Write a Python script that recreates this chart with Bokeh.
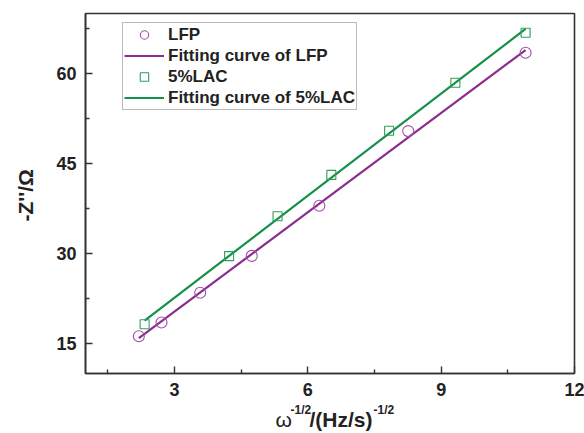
import numpy as np
from bokeh.plotting import figure
from bokeh.layouts import column, row
from bokeh.models import FixedTicker, Range1d, Legend, LegendItem
from bokeh.core.properties import value
from bokeh.embed import file_html
from bokeh.resources import INLINE

# ---- data ----
lfp_x = [2.20, 2.71, 3.58, 4.74, 6.26, 8.26, 10.90]
lfp_y = [16.2, 18.5, 23.45, 29.6, 37.95, 50.4, 63.45]
lac_x = [2.33, 4.23, 5.32, 6.53, 7.83, 9.32, 10.90]
lac_y = [18.2, 29.57, 36.2, 43.1, 50.45, 58.45, 66.8]
x_ticks = [3, 6, 9, 12]
x_minor = [1.5, 4.5, 7.5, 10.5]
y_ticks = [15, 30, 45, 60]
y_minor = [22.5, 37.5, 52.5, 67.5]
x_title = ["\u03c9", "-1/2", "/(Hz/s)", "-1/2"]
y_title = "-Z''/\u03a9"

PURPLE = "#8B2D8F"
PURPLE_M = "#A24FA8"
GREEN = "#14904A"
GREEN_M = "#2E9E5E"
FONT = "Liberation Sans"
TXT = "#222222"

W, H = 584, 433
YW = 40          # width of the strip holding the y title
XH = 33          # height of the strip holding the x title
MAIN_H = H - XH

# ---------------- main plot ----------------
p = figure(width=W - YW, height=MAIN_H, output_backend="svg",
           toolbar_location=None,
           x_range=Range1d(1, 12), y_range=Range1d(10, 70),
           min_border_left=85 - YW, min_border_right=10, min_border_top=13,
           min_border_bottom=MAIN_H - 373)
p.background_fill_color = "white"
p.border_fill_color = "white"
p.grid.visible = False
p.outline_line_color = "#333333"
p.outline_line_width = 1.6

for ax in (p.xaxis[0], p.yaxis[0]):
    ax.axis_line_color = "#333333"
    ax.axis_line_width = 1.6
    ax.major_tick_in = 7
    ax.major_tick_out = 0
    ax.minor_tick_in = 4
    ax.minor_tick_out = 0
    ax.major_tick_line_color = "#333333"
    ax.minor_tick_line_color = "#333333"
    ax.major_tick_line_width = 1.4
    ax.minor_tick_line_width = 1.4
    ax.major_label_text_font = FONT
    ax.major_label_text_font_style = "bold"
    ax.major_label_text_font_size = "18px"
    ax.major_label_text_color = TXT
    ax.major_label_standoff = 9

p.xaxis[0].ticker = FixedTicker(ticks=x_ticks, minor_ticks=x_minor)
p.yaxis[0].ticker = FixedTicker(ticks=y_ticks, minor_ticks=y_minor)


def fit_line(xs, ys):
    k, b = np.polyfit(xs, ys, 1)
    xx = np.array([min(xs), max(xs)])
    return xx, k * xx + b


fx1, fy1 = fit_line(lfp_x, lfp_y)
fx2, fy2 = fit_line(lac_x, lac_y)

r_fit1 = p.line(fx1, fy1, line_color=PURPLE, line_width=2.2)
r_fit2 = p.line(fx2, fy2, line_color=GREEN, line_width=2.2)
r_lfp = p.scatter(lfp_x, lfp_y, marker="circle", size=11, fill_color=None,
                  line_color=PURPLE_M, line_width=1.1)
r_lac = p.scatter(lac_x, lac_y, marker="square", size=9, fill_color=None,
                  line_color=GREEN_M, line_width=1.1)

legend = Legend(items=[
    LegendItem(label="LFP", renderers=[r_lfp]),
    LegendItem(label="Fitting curve of LFP", renderers=[r_fit1]),
    LegendItem(label="5%LAC", renderers=[r_lac]),
    LegendItem(label="Fitting curve of 5%LAC", renderers=[r_fit2]),
], location=(37, 263))
legend.label_text_font = FONT
legend.label_text_font_style = "bold"
legend.label_text_font_size = "17px"
legend.label_text_color = TXT
legend.glyph_width = 40
legend.glyph_height = 21
legend.label_height = 21
legend.label_standoff = 4
legend.spacing = 0
legend.padding = 1
legend.margin = 0
legend.border_line_color = "#777777"
legend.border_line_width = 1.2
legend.background_fill_alpha = 1.0
p.add_layout(legend, "center")


def strip(width, height):
    f = figure(width=width, height=height, output_backend="svg",
               toolbar_location=None, x_range=Range1d(0, width),
               y_range=Range1d(0, height), min_border=0,
               x_axis_location=None, y_axis_location=None)
    f.grid.visible = False
    f.outline_line_color = None
    f.border_fill_color = "white"
    f.background_fill_color = "white"
    return f


# ---------------- y title strip ----------------
fy = strip(YW, MAIN_H)
fy.text(x=[25], y=[MAIN_H - 202], text=[y_title], angle=np.pi / 2,
        text_align="center", text_baseline="middle",
        text_font=value(FONT), text_font_style="bold",
        text_font_size="21px", text_color=TXT)

# ---------------- x title strip ----------------
fx = strip(W, XH)
base_mid = XH - (418.6 - MAIN_H)   # vertical middle of the main text
sup_mid = XH - (409.8 - MAIN_H)    # vertical middle of the superscripts
fx.text(x=[275], y=[base_mid], text=[x_title[0]], text_align="left",
        text_baseline="middle", text_font=value(FONT),
        text_font_size="21px", text_color=TXT)
fx.text(x=[290, 373], y=[sup_mid, sup_mid], text=[x_title[1], x_title[3]],
        text_align="left", text_baseline="middle",
        text_font=value(FONT), text_font_style="bold",
        text_font_size="12px", text_color=TXT)
fx.text(x=[309], y=[base_mid], text=[x_title[2]], text_align="left",
        text_baseline="middle", text_font=value(FONT),
        text_font_style="bold", text_font_size="21px", text_color=TXT)

layout = column(row(fy, p, spacing=0), fx, spacing=0)
open("out.html", "w").write(file_html(layout, INLINE))
